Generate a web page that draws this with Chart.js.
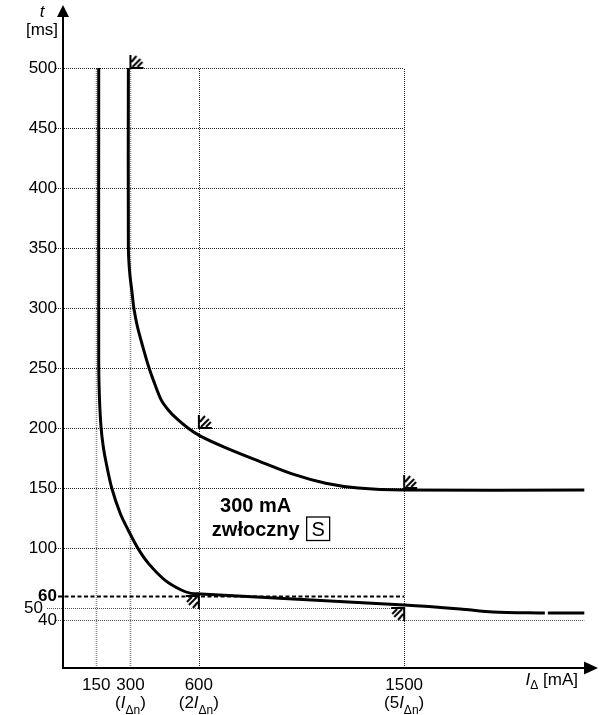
<!DOCTYPE html>
<html>
<head>
<meta charset="utf-8">
<script src="https://cdn.jsdelivr.net/npm/chart.js@4.4.1/dist/chart.umd.min.js"></script>
<style>
  html, body { margin: 0; padding: 0; background: #fff; overflow: hidden; }
  #wrap { position: relative; width: 607px; height: 715px; }
</style>
</head>
<body>
<div id="wrap"><canvas id="c"></canvas></div>
<script>
const FONT = '"Liberation Sans", Arial, Helvetica, sans-serif';

// Upper boundary of the tripping band: residual current I_Δ [mA] -> break time t [ms]
const upperCurrent = [291, 291, 297, 307, 315, 330, 351, 380, 408, 436, 466, 496, 552, 609, 724, 868, 1012, 1156, 1299, 1500, 2290];
const upperTime    = [500, 350, 329, 313, 300, 285, 270, 251, 236, 223, 215, 209, 200, 193, 183, 172, 161.5, 154, 150, 148.3, 148.3];

// Lower boundary of the tripping band
const lowerCurrent = [161, 161, 164, 171, 181, 194, 218, 255, 290, 333, 379, 451, 523, 566, 609, 1500, 1746, 1889, 2117, 2123, 2130, 2290];
const lowerTime    = [500, 254, 226, 201, 184.4, 170.6, 150, 129, 115, 99.7, 87.2, 73.3, 65, 62.2, 61.7, 52.5, 49.2, 46.7, 45.8, null, 45.8, 45.8];

// Limit markers: maximum break times and minimum non-actuating times
const maxBreakCurrent = [300, 600, 1500];
const maxBreakTime    = [500, 200, 150];
const minHoldCurrent  = [600, 1500];
const minHoldTime     = [60, 50];

// Axes
const xTickValues = [150, 300, 600, 1500];
const xTickNotes  = ['', '(', '(2', '(5'];       // followed by I_Δn)
const yTickValues = [40, 50, 60, 100, 150, 200, 250, 300, 350, 400, 450, 500];
const delayLine   = 60;                          // dashed reference time
const gridRight   = 1500;
const xMax        = 2350;
const yMax        = 500;

const font = (size, style = '', weight = '') => `${style} ${weight} ${size}px ${FONT}`.trim();

function pts(xs, ys) { return xs.map((v, i) => ({ x: v, y: ys[i] })); }

// Hatched corner marker; corner sits at the point
function limitMarker(flip) {
  const S = 15;
  const c = document.createElement('canvas');
  c.width = c.height = 2 * S;
  const g = c.getContext('2d');
  g.strokeStyle = '#000';
  g.lineWidth = 2;
  const sg = flip ? -1 : 1;
  const P = (u, v) => [S + sg * u, S - sg * v];
  const seg = (a, b, cc, d) => {
    const p = P(a, b), q = P(cc, d);
    g.beginPath(); g.moveTo(p[0], p[1]); g.lineTo(q[0], q[1]); g.stroke();
  };
  seg(0, 0, 0, 13);
  seg(-1, 0, 13, 0);
  seg(1, 6, 6, 12);
  seg(2, 1, 10, 9);
  seg(7, 1, 12, 6);
  return c;
}

// Draw a sequence of text runs (normal / italic / subscript)
function drawRuns(ctx, runs, x, baseline, align) {
  const widths = runs.map(r => { ctx.font = r.font; return ctx.measureText(r.text).width; });
  const total = widths.reduce((a, b) => a + b, 0);
  let cx = align === 'center' ? x - total / 2 : align === 'right' ? x - total : x;
  ctx.textAlign = 'left';
  ctx.textBaseline = 'alphabetic';
  runs.forEach((r, i) => {
    ctx.font = r.font;
    ctx.fillText(r.text, cx, baseline + (r.dy || 0));
    cx += widths[i];
  });
}

const gridPlugin = {
  id: 'gridLines',
  beforeDatasetsDraw(chart) {
    const { ctx, scales: { x, y } } = chart;
    const xEnd = x.getPixelForValue(gridRight);
    const yTop = y.getPixelForValue(yMax);
    const yBot = y.getPixelForValue(0);
    ctx.save();
    ctx.setLineDash([1, 1]);
    yTickValues.forEach(v => {
      if (v === delayLine) return;
      const py = Math.round(y.getPixelForValue(v)) + 0.5;
      let x0 = x.left - 6, x1 = xEnd;
      if (v === 50) x0 = x.left - 15;
      if (v === 40) x1 = x.getPixelForValue(lowerCurrent[lowerCurrent.length - 1]);
      ctx.strokeStyle = v <= 50 ? '#555' : '#222';
      ctx.lineWidth = 1;
      ctx.beginPath(); ctx.moveTo(x0, py); ctx.lineTo(x1, py); ctx.stroke();
    });
    xTickValues.forEach(v => {
      const px = Math.round(x.getPixelForValue(v)) + 0.5;
      ctx.strokeStyle = v < 600 ? '#888' : '#222';
      ctx.lineWidth = v < 600 ? 1.6 : 1;
      ctx.beginPath(); ctx.moveTo(px, yBot); ctx.lineTo(px, yTop); ctx.stroke();
    });
    const pd = Math.round(y.getPixelForValue(delayLine)) + 0.5;
    ctx.setLineDash([4, 2.5]);
    ctx.lineWidth = 1.8;
    ctx.strokeStyle = '#000';
    ctx.beginPath(); ctx.moveTo(x.left - 4, pd); ctx.lineTo(xEnd, pd); ctx.stroke();
    ctx.restore();
  }
};

const axesPlugin = {
  id: 'arrowAxes',
  afterDatasetsDraw(chart) {
    const { ctx, scales: { x, y } } = chart;
    const ax = x.getPixelForValue(0) + 1;
    const ay = y.getPixelForValue(0);
    const tipY = y.top - 63;
    ctx.save();
    ctx.setLineDash([]);
    ctx.strokeStyle = '#000';
    ctx.fillStyle = '#000';
    ctx.lineWidth = 2;
    ctx.beginPath(); ctx.moveTo(ax, ay + 1); ctx.lineTo(ax, tipY + 10); ctx.stroke();
    ctx.beginPath(); ctx.moveTo(ax, tipY); ctx.lineTo(ax - 6, tipY + 12); ctx.lineTo(ax + 6, tipY + 12); ctx.closePath(); ctx.fill();
    ctx.beginPath(); ctx.moveTo(ax - 1, ay); ctx.lineTo(x.right - 12, ay); ctx.stroke();
    ctx.beginPath(); ctx.moveTo(x.right, ay); ctx.lineTo(x.right - 14, ay - 6.5); ctx.lineTo(x.right - 14, ay + 6.5); ctx.closePath(); ctx.fill();
    ctx.restore();
  }
};

const textPlugin = {
  id: 'texts',
  afterDraw(chart) {
    const { ctx, scales: { x, y } } = chart;
    ctx.save();
    ctx.fillStyle = '#000';
    // second line under the current ticks
    xTickValues.forEach((v, i) => {
      if (!xTickNotes[i]) return;
      drawRuns(ctx, [
        { text: xTickNotes[i], font: font(17) },
        { text: 'I', font: font(17, 'italic') },
        { text: 'Δn', font: font(12), dy: 6 },
        { text: ')', font: font(17) }
      ], x.getPixelForValue(v), y.bottom + 40, 'center');
    });
    // axis titles
    drawRuns(ctx, [
      { text: 'I', font: font(17, 'italic') },
      { text: 'Δ', font: font(12), dy: 4 },
      { text: ' [mA]', font: font(17) }
    ], x.right - 20, y.bottom + 17, 'right');
    ctx.textAlign = 'center';
    ctx.textBaseline = 'alphabetic';
    ctx.font = font(17, 'italic');
    ctx.fillText('t', x.left - 20, y.top - 51);
    ctx.font = font(17);
    ctx.fillText('[ms]', x.left - 20, y.top - 33);
    // device description
    ctx.textAlign = 'left';
    ctx.font = font(20, '', 'bold');
    ctx.fillText('300 mA', x.getPixelForValue(693), y.getPixelForValue(130));
    const zx = x.getPixelForValue(657), zy = y.getPixelForValue(110);
    ctx.fillText('zwłoczny', zx, zy);
    const bx = zx + ctx.measureText('zwłoczny').width + 7;
    ctx.lineWidth = 1.3;
    ctx.strokeStyle = '#000';
    ctx.strokeRect(bx, zy - 19, 23, 23.5);
    ctx.font = font(20);
    ctx.textAlign = 'center';
    ctx.fillText('S', bx + 11.5, zy - 0.5);
    ctx.restore();
  }
};

const curveStyle = {
  borderColor: '#000', borderWidth: 3, pointRadius: 0, fill: false,
  tension: 0.3, spanGaps: false, borderJoinStyle: 'round', borderCapStyle: 'butt'
};

new Chart(document.getElementById('c'), {
  type: 'line',
  data: {
    datasets: [
      Object.assign({ label: 'upper', data: pts(upperCurrent, upperTime) }, curveStyle),
      Object.assign({ label: 'lower', data: pts(lowerCurrent, lowerTime) }, curveStyle),
      { label: 'maxBreak', data: pts(maxBreakCurrent, maxBreakTime), showLine: false,
        pointStyle: limitMarker(false), pointRadius: 8, clip: false },
      { label: 'minHold', data: pts(minHoldCurrent, minHoldTime), showLine: false,
        pointStyle: limitMarker(true), pointRadius: 8, clip: false }
    ]
  },
  options: {
    responsive: true,
    maintainAspectRatio: false,
    animation: false,
    devicePixelRatio: 1,
    layout: { padding: { top: 68, right: 0, bottom: 0, left: 0 } },
    plugins: { legend: { display: false }, tooltip: { enabled: false } },
    events: [],
    scales: {
      x: {
        type: 'linear', min: 0, max: xMax,
        grid: { display: false, drawTicks: false },
        border: { display: false },
        afterBuildTicks: s => { s.ticks = xTickValues.map(v => ({ value: v })); },
        afterFit: s => { s.height = 47; },
        ticks: { autoSkip: false, maxRotation: 0, color: '#000', padding: 7,
                 font: { family: FONT, size: 17 }, callback: v => String(v) }
      },
      y: {
        type: 'linear', min: 0, max: yMax,
        grid: { display: false, drawTicks: false },
        border: { display: false },
        afterBuildTicks: s => { s.ticks = yTickValues.map(v => ({ value: v })); },
        afterFit: s => { s.width = 62; },
        ticks: { autoSkip: false, color: '#000', padding: 5,
                 font: c => ({ family: FONT, size: 17, weight: c.tick && c.tick.value === delayLine ? 'bold' : 'normal' }),
                 callback: v => v === 50 ? '50   ' : String(v) }
      }
    }
  },
  plugins: [gridPlugin, axesPlugin, textPlugin]
});
</script>
</body>
</html>
